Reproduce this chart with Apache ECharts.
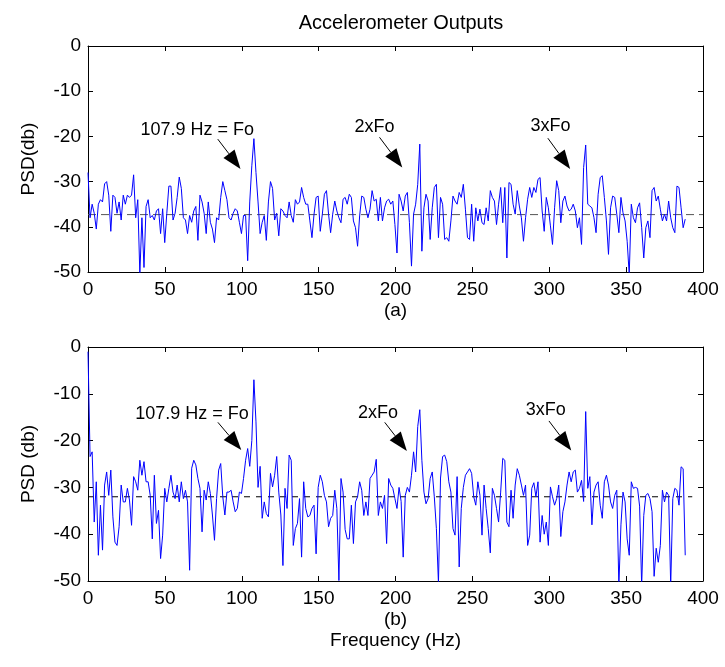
<!DOCTYPE html>
<html>
<head>
<meta charset="utf-8">
<script src="https://cdn.jsdelivr.net/npm/echarts@6/dist/echarts.min.js"></script>
<style>
  html, body { margin: 0; padding: 0; background: #fff; }
  #main { width: 725px; height: 667px; }
</style>
</head>
<body>
<div id="main"></div>
<script>
// PSD of the two accelerometers, one value per frequency bin (bin width = Fo / 80)
var FO = 107.9;
var DF = FO / 80;

var psdA = [
  -28, -38, -35, -37, -40.5, -35, -34, -34.5, -30.5, -30,
  -33, -41, -33, -33.5, -37, -34.5, -38.5, -33, -35, -33,
  -33.5, -33, -28.5, -38, -34, -50.5, -38, -49, -35.5, -34,
  -38, -37.5, -38.5, -36.5, -36, -41.5, -36, -43.5, -37, -31,
  -31, -38.5, -37, -33.5, -29, -31.5, -38, -38.5, -41.5, -37.5,
  -39, -36.5, -35.5, -43, -33, -34.5, -37, -41.5, -34.5, -39,
  -40.5, -43.5, -38, -38.5, -33.5, -30, -32, -34, -38, -38.5,
  -37, -36, -36.5, -39, -41.5, -37.5, -37.5, -47.5, -34.5, -26.5,
  -20.5, -28, -34.5, -41.5, -39, -37.5, -43, -34.5, -30, -31.5,
  -38.5, -37, -42, -36, -36.5, -37.5, -38, -34.5, -37.5, -39,
  -34, -35, -34.5,
  -31.3, -33.5, -35, -35, -38.7, -42.4, -37.2, -33.5, -33.2, -41,
  -37.2, -32.8, -32, -37.2, -41.3, -37.2, -34.3, -36.5, -38, -39.1,
  -33.9, -33.5, -35, -32.8, -33.5, -38.7, -40.2, -44.3, -37.6, -33.2,
  -33.5, -36.1, -38, -36.1, -32, -34.3, -33.9, -38.7, -33.5, -38.7,
  -35.8, -34.3, -33.9, -35, -34.3, -39.5, -45.8, -32.8, -34.3, -36.5,
  -33.2, -32.4, -39.1, -48.7, -37.2, -35, -30.6, -21.7, -45.4, -35.8,
  -32.8, -34.3, -42.8, -35.8, -31.3, -30.6, -42.4, -33.5, -35, -42.8,
  -42.4, -43.2, -38.7, -33.2, -34.3, -35, -32.4, -33.5, -30.6, -36.1,
  -42.4, -42.8, -35, -43.2, -35.8, -38.7, -36.1, -39.1, -39.5, -35.8,
  -38.7, -32, -33.5, -34.3, -39.5, -35, -31.3, -39.1, -31.3, -46.9,
  -30.2,
  -30.6, -35, -37.2, -32, -35.4, -38, -43.2, -38, -33.9, -31.3,
  -33.5, -31.3, -32.4, -29.5, -29.1, -36.5, -41, -33.5, -35.8, -39.8,
  -43.9, -35.8, -29.8, -32, -39.1, -34.3, -33.2, -35.4, -36.5, -36.1,
  -35, -36.5, -40.2, -38, -43.9, -26.9, -21.9, -35, -35.4, -35.8,
  -38, -41.3, -32.8, -29.1, -28.7, -33.5, -38.7, -46.1, -35.8, -33.2,
  -33.5, -37.2, -41.3, -33.5, -36.9, -38.7, -43.2, -50.6, -35, -38,
  -39.1, -35.8, -34.7, -40.2, -46.9, -40.2, -38.7, -42.4, -32, -31.3,
  -34.3, -33.2, -36.1, -38.7, -37.2, -38.7, -34.3, -38, -40.2, -41.3,
  -31, -31.3, -35.8, -40.2, -38.3
];

var psdB = [
  -1, -23.4, -22.4, -37.4, -28.8, -44.5, -33.8, -43.4, -29.5, -26.7,
  -31.7, -26.3, -36.3, -41.7, -42.4, -38.4, -29.5, -33.1, -33.1, -30.2,
  -32.7, -38.1, -27.7, -28.8, -30.6, -24.2, -27.4, -24.5, -28.8, -28.8,
  -31.7, -41, -27.4, -37.7, -34.9, -45.2, -40.2, -30.2, -33.1, -30.2,
  -27.4, -31, -32.4, -29.5, -33.1, -28.8, -32.4, -30.6, -33.1, -47.7,
  -25.9, -24.2, -25.2, -28.1, -30.2, -39.5, -30.6, -32.7, -28.8, -31.3,
  -35.9, -41.3, -32.4, -26.3, -24.9, -32, -35.9, -31, -31, -30.6,
  -33.1, -35.2, -34.5, -31, -31.3, -28.1, -24.2, -21.7, -25.5, -20,
  -7, -16, -30, -25.5, -36.6, -33.1, -35.6, -36.3, -27, -29.9,
  -27.4, -23.4, -31, -35.9, -46.7, -30.2, -34.5, -23.1, -24.2, -42.4,
  -38.8, -37.7, -32.4,
  -44.9, -28.8, -34.5, -36.3, -36, -34.5, -33.8, -44.2, -30, -27.4,
  -28.8, -31.7, -33.1, -38.4, -36.6, -36, -30.6, -34.5, -49.9, -28.1,
  -31, -39, -41, -41, -33.8, -42, -33.1, -32, -28.8, -30.6,
  -36, -33.1, -36, -28.1, -27.4, -26.7, -24, -36, -33.1, -34.5,
  -31.7, -42, -28.1, -29.5, -30.2, -32.4, -34.5, -30, -33, -44.9,
  -31.7, -30, -31, -27.4, -22.4, -26.7, -17, -13.4, -24.2, -31,
  -33.5, -32.4, -28.1, -26.7, -32, -38.8, -50.5, -28, -23.4, -23.1,
  -24.5, -28.8, -31, -38.8, -40.2, -27.7, -47, -34.5, -30, -27.4,
  -26.7, -26, -27, -32, -33.8, -28.8, -31.7, -40.2, -29.5, -34.5,
  -38.8, -44, -30.2, -31.7, -34.5, -37.4, -31, -23.8, -24.2, -37.4,
  -38.4,
  -30.6, -36.6, -29.5, -26, -27.4, -29.5, -31.7, -29.5, -42.4, -40.2,
  -30.2, -29, -32, -28.8, -41.7, -36, -40, -37.4, -42.4, -29.9,
  -32, -33.8, -32.4, -29.5, -40.5, -35.2, -33.1, -29.5, -26.7, -28.8,
  -26.7, -26.3, -31, -30.2, -28.5, -33, -13.8, -30.2, -27.7, -38,
  -31, -29.5, -28.8, -33.8, -36.6, -28.8, -27.4, -29.5, -33.1, -34.5,
  -31.7, -30.6, -51, -38, -31, -33.1, -41, -44.5, -28.8, -30.2,
  -30, -30.2, -34, -51, -36, -31.7, -31.3, -32.4, -35.2, -49,
  -43, -46, -42.4, -30.6, -33.1, -31, -31.7, -51, -32.4, -30.2,
  -30.6, -33.8, -25.6, -26, -44.5
];

// mean levels (dashed lines): [level, last frequency]
var meanA = [-37.3, 400];
var meanB = [-32, 393];

var xTicks = [0, 400, 50];
var yTicks = [-50, 0, 10];

// annotations, in data units of each panel
var noteLabels = ['107.9 Hz = Fo', '2xFo', '3xFo'];
var noteTextA = [[71, -18.5], [186.3, -18], [300.8, -17.7]];
var noteFromA = [[84.4, -20.6], [189.6, -20.2], [299.1, -20.4]];
var noteToA = [[99.2, -27.2], [204.4, -26.9], [313.6, -27.2]];
var noteTextB = [[67.7, -14.3], [188.6, -14.1], [297.8, -13.5]];
var noteFromB = [[84.5, -16.1], [193, -16.1], [299.8, -15.8]];
var noteToB = [[99.7, -22], [207.4, -22.2], [314.3, -22.1]];

var FONT = 'Liberation Sans, Arial, Helvetica, sans-serif';

function toPairs(vals) {
    return vals.map(function (v, i) { return [i * DF, v]; });
}

function xAxisFor(grid, bottom, name) {
    var ax = {
        type: 'value', gridIndex: grid, position: bottom ? 'bottom' : 'top',
        min: xTicks[0], max: xTicks[1], interval: xTicks[2],
        axisLine: {show: true, onZero: false, lineStyle: {color: '#000', width: 1}},
        axisTick: {show: true, inside: true, length: 5, lineStyle: {color: '#000'}},
        axisLabel: {show: bottom, margin: 8, color: '#000', fontSize: 19, fontFamily: FONT},
        splitLine: {show: false}
    };
    if (name) {
        ax.name = name;
        ax.nameLocation = 'middle';
        ax.nameGap = 28;
        ax.nameTextStyle = {color: '#000', fontSize: 19, fontFamily: FONT, lineHeight: 21, verticalAlign: 'top'};
    }
    return ax;
}

function yAxisFor(grid, left, name) {
    var ax = {
        type: 'value', gridIndex: grid, position: left ? 'left' : 'right',
        min: yTicks[0], max: yTicks[1], interval: yTicks[2],
        axisLine: {show: true, onZero: false, lineStyle: {color: '#000', width: 1}},
        axisTick: {show: true, inside: true, length: 5, lineStyle: {color: '#000'}},
        axisLabel: {show: left, margin: 7, color: '#000', fontSize: 19, fontFamily: FONT},
        splitLine: {show: false}
    };
    if (name) {
        ax.name = name;
        ax.nameLocation = 'middle';
        ax.nameGap = 50;
        ax.nameTextStyle = {color: '#000', fontSize: 19, fontFamily: FONT};
    }
    return ax;
}

var chart = echarts.init(document.getElementById('main'), null, {renderer: 'canvas'});

chart.setOption({
    animation: false,
    backgroundColor: '#fff',
    title: {
        text: 'Accelerometer Outputs', left: 396, top: 8, textAlign: 'center',
        textStyle: {color: '#000', fontSize: 20, fontWeight: 'normal', fontFamily: FONT}
    },
    grid: [
        {left: 88, top: 46, width: 615, height: 226, show: false},
        {left: 88, top: 347, width: 615, height: 234, show: false}
    ],
    xAxis: [
        xAxisFor(0, true, '(a)'), xAxisFor(0, false),
        xAxisFor(1, true, '(b)\nFrequency (Hz)'), xAxisFor(1, false)
    ],
    yAxis: [
        yAxisFor(0, true, 'PSD(db)'), yAxisFor(0, false),
        yAxisFor(1, true, 'PSD (db)'), yAxisFor(1, false)
    ],
    series: [
        {
            type: 'line', xAxisIndex: 0, yAxisIndex: 0, data: [[0, meanA[0]], [meanA[1], meanA[0]]],
            showSymbol: false, silent: true,
            lineStyle: {color: '#555', width: 1, type: [8, 5]}
        },
        {
            type: 'line', xAxisIndex: 0, yAxisIndex: 0, data: toPairs(psdA),
            showSymbol: false, clip: true,
            lineStyle: {color: '#0000ff', width: 1}
        },
        {
            type: 'line', xAxisIndex: 2, yAxisIndex: 2, data: [[0, meanB[0]], [meanB[1], meanB[0]]],
            showSymbol: false, silent: true,
            lineStyle: {color: '#000', width: 1, type: [6, 6]}
        },
        {
            type: 'line', xAxisIndex: 2, yAxisIndex: 2, data: toPairs(psdB),
            showSymbol: false, clip: true,
            lineStyle: {color: '#0000ff', width: 1}
        }
    ]
});

// text + filled arrowheads, placed through the axes
function arrowShapes(grid, from, to) {
    var a = chart.convertToPixel({gridIndex: grid}, from);
    var b = chart.convertToPixel({gridIndex: grid}, to);
    var dx = b[0] - a[0], dy = b[1] - a[1];
    var len = Math.sqrt(dx * dx + dy * dy);
    var ux = dx / len, uy = dy / len;
    var headLen = 19, halfW = 7;
    var bx = b[0] - ux * headLen, by = b[1] - uy * headLen;
    return [
        {type: 'line', silent: true, shape: {x1: a[0], y1: a[1], x2: bx, y2: by},
            style: {stroke: '#000', lineWidth: 1}},
        {type: 'polygon', silent: true,
            shape: {points: [[b[0], b[1]], [bx - uy * halfW, by + ux * halfW], [bx + uy * halfW, by - ux * halfW]]},
            style: {fill: '#000'}}
    ];
}

function placeNotes() {
    var items = [];
    [[0, noteTextA, noteFromA, noteToA], [1, noteTextB, noteFromB, noteToB]].forEach(function (p) {
        noteLabels.forEach(function (label, k) {
            var t = chart.convertToPixel({gridIndex: p[0]}, p[1][k]);
            items.push({type: 'text', silent: true, x: t[0], y: t[1],
                style: {text: label, fill: '#000', font: '18px ' + FONT, align: 'center', verticalAlign: 'middle'}});
            items = items.concat(arrowShapes(p[0], p[2][k], p[3][k]));
        });
    });
    chart.setOption({graphic: items});
}

placeNotes();
</script>
</body>
</html>
